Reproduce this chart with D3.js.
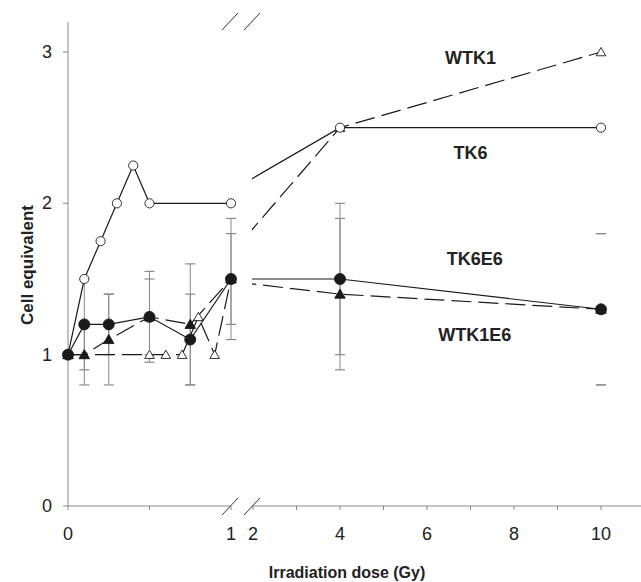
<!DOCTYPE html>
<html>
<head>
<meta charset="utf-8">
<script src="https://cdn.jsdelivr.net/npm/d3@7"></script>
<style>
  body { margin: 0; background: #fff; }
  text { font-family: Arial, "Liberation Sans", sans-serif; fill: #222; }
</style>
</head>
<body>
<svg width="641" height="582"></svg>
<script>
// doses (Gy) for each series
const doseTK6 = [0, 0.1, 0.2, 0.3, 0.4, 0.5, 1, 4, 10];
const valTK6 = [1, 1.5, 1.75, 2, 2.25, 2, 2, 2.5, 2.5];

const doseWTK1 = [0, 0.5, 0.6, 0.7, 0.8, 0.9, 1, 4, 10];
const valWTK1 = [1, 1, 1, 1, 1.25, 1, 1.5, 2.5, 3];

const doseE6 = [0, 0.1, 0.25, 0.5, 0.75, 1, 4, 10];
const valTK6E6 = [1, 1.2, 1.2, 1.25, 1.1, 1.5, 1.5, 1.3];
const errTK6E6 = [0, 0.3, 0.2, 0.3, 0.3, 0.3, 0.5, 0.5];
const valWTK1E6 = [1, 1, 1.1, 1.25, 1.2, 1.5, 1.4, 1.3];
const errWTK1E6 = [0, 0.2, 0.3, 0.25, 0.4, 0.4, 0.5, 0.5];

const yTicks = [0, 1, 2, 3];
const xTicksLeft = [0, 0.5, 1];
const xTicksRight = [2, 3, 4, 5, 6, 7, 8, 9, 10];
const xLabelsLeft = [0, 1];
const xLabelsRight = [2, 4, 6, 8, 10];
const hiddenStems = [10];  // only the caps show at 10 Gy

const seriesLabels = [
  { text: "WTK1", dose: 7, value: 2.96 },
  { text: "TK6", dose: 7, value: 2.33 },
  { text: "TK6E6", dose: 7.1, value: 1.63 },
  { text: "WTK1E6", dose: 7.1, value: 1.13 }
];

const svg = d3.select("svg");

// scales: broken x axis (0-1 Gy, then 2-10 Gy)
const y = d3.scaleLinear().domain([0, 3]).range([506, 52]);
const xL = d3.scaleLinear().domain([0, 1]).range([68, 231]);
const xR = d3.scaleLinear().domain([2, 10]).range([253, 601]);
const xAt = d => d <= 1 ? xL(d) : xR(d);

const axisColor = "#888";
const ink = "#1a1a1a";

svg.append("clipPath").attr("id", "clipR")
  .append("rect").attr("x", xR(2) - 1).attr("y", 0).attr("width", 641).attr("height", 582);

// axes
const y0 = y(0);
svg.append("line").attr("x1", xL(0)).attr("x2", xL(0)).attr("y1", 22).attr("y2", y0)
  .attr("stroke", axisColor);
svg.append("line").attr("x1", xL(0)).attr("x2", xL(1) - 1).attr("y1", y0).attr("y2", y0)
  .attr("stroke", axisColor);
svg.append("line").attr("x1", xR(2) - 1).attr("x2", 641).attr("y1", y0).attr("y2", y0)
  .attr("stroke", axisColor);

svg.selectAll(".ytick").data(yTicks).enter().append("line")
  .attr("x1", xL(0) - 5).attr("x2", xL(0))
  .attr("y1", d => y(d)).attr("y2", d => y(d))
  .attr("stroke", axisColor);
svg.selectAll(".ylab").data(yTicks).enter().append("text")
  .attr("x", 52).attr("y", d => y(d) + 6)
  .attr("text-anchor", "end").attr("font-size", 18).text(d => d);

const xt = xTicksLeft.map(d => xL(d)).concat(xTicksRight.map(d => xR(d)));
svg.selectAll(".xtick").data(xt).enter().append("line")
  .attr("x1", d => d).attr("x2", d => d)
  .attr("y1", y0).attr("y2", y0 + 4)
  .attr("stroke", axisColor);

const xl = xLabelsLeft.map(d => ({ d, x: xL(d) })).concat(xLabelsRight.map(d => ({ d, x: xR(d) })));
svg.selectAll(".xlab").data(xl).enter().append("text")
  .attr("x", d => d.x).attr("y", 540)
  .attr("text-anchor", "middle").attr("font-size", 18).text(d => d.d);

// break marks
function breakMarks(cy) {
  [xL(1) - 1, xR(2) - 1].forEach(cx => {
    svg.append("line")
      .attr("x1", cx - 8).attr("y1", cy + 9)
      .attr("x2", cx + 8).attr("y2", cy - 8)
      .attr("stroke", "#333").attr("stroke-width", 1);
  });
}
breakMarks(y0);
breakMarks(21);

// titles
svg.append("text").attr("x", 347).attr("y", 578)
  .attr("text-anchor", "middle").attr("font-size", 16).attr("font-weight", "bold")
  .text("Irradiation dose (Gy)");
svg.append("text")
  .attr("transform", "translate(33,265) rotate(-90)")
  .attr("text-anchor", "middle").attr("font-size", 17).attr("font-weight", "bold")
  .text("Cell equivalent");

// error bars
function errorBars(doses, vals, errs) {
  doses.forEach((d, i) => {
    const e = errs[i];
    if (!e) return;
    const cx = xAt(d);
    if (!hiddenStems.includes(d)) {
      svg.append("line").attr("x1", cx).attr("x2", cx)
        .attr("y1", y(vals[i] + e)).attr("y2", y(vals[i] - e))
        .attr("stroke", "#8a8a8a").attr("stroke-width", 1);
    }
    [vals[i] + e, vals[i] - e].forEach(v => {
      svg.append("line").attr("x1", cx - 5).attr("x2", cx + 5)
        .attr("y1", y(v)).attr("y2", y(v))
        .attr("stroke", "#8a8a8a").attr("stroke-width", 1.2);
    });
  });
}
errorBars(doseE6, valTK6E6, errTK6E6);
errorBars(doseE6, valWTK1E6, errWTK1E6);

// lines
function drawSeries(doses, vals, dash) {
  const pts = doses.map((d, i) => ({ d, v: vals[i] }));
  const left = pts.filter(p => p.d <= 1);
  const right = pts.filter(p => p.d >= 1);
  const lineL = d3.line().x(p => xL(p.d)).y(p => y(p.v));
  const lineR = d3.line().x(p => xR(p.d)).y(p => y(p.v));
  svg.append("path").attr("d", lineL(left))
    .attr("fill", "none").attr("stroke", ink).attr("stroke-width", 1.2)
    .attr("stroke-dasharray", dash);
  svg.append("path").attr("d", lineR(right)).attr("clip-path", "url(#clipR)")
    .attr("fill", "none").attr("stroke", ink).attr("stroke-width", 1.2)
    .attr("stroke-dasharray", dash);
}
drawSeries(doseWTK1, valWTK1, "20,7");
drawSeries(doseE6, valWTK1E6, "20,7");
drawSeries(doseTK6, valTK6, null);
drawSeries(doseE6, valTK6E6, null);

// markers
function markers(doses, vals, type, filled, size) {
  const sym = d3.symbol().type(type).size(size);
  svg.selectAll(null).data(doses.map((d, i) => ({ d, v: vals[i] }))).enter()
    .append("path")
    .attr("d", sym)
    .attr("transform", p => `translate(${xAt(p.d)},${y(p.v) + (type === d3.symbolTriangle ? 1 : 0)})`)
    .attr("fill", filled ? ink : "#fff")
    .attr("stroke", ink).attr("stroke-width", 0.9);
}
markers(doseWTK1, valWTK1, d3.symbolTriangle, false, 40);
markers(doseTK6, valTK6, d3.symbolCircle, false, 66);
markers(doseE6, valWTK1E6, d3.symbolTriangle, true, 48);
markers(doseE6, valTK6E6, d3.symbolCircle, true, 95);

// series labels
svg.selectAll(".slab").data(seriesLabels).enter().append("text")
  .attr("x", d => xR(d.dose)).attr("y", d => y(d.value) + 6)
  .attr("text-anchor", "middle").attr("font-size", 18).attr("font-weight", "bold")
  .text(d => d.text);
</script>
</body>
</html>
